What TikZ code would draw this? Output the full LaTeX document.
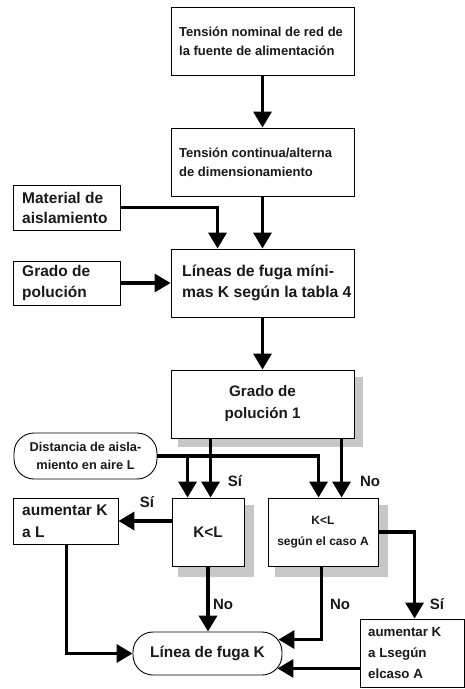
\documentclass[tikz,border=0pt]{standalone}
\usepackage{fontspec}
\setmainfont{Liberation Sans}
\usetikzlibrary{arrows.meta,calc}
\newcommand{\fs}[2]{\fontsize{#1}{#2}\selectfont}
\begin{document}
\begin{tikzpicture}[x=1pt,y=-1pt,
  box/.style={draw, line width=0.9pt, fill=white, inner sep=0pt},
  rbox/.style={box, rounded corners=20pt},
  shadowc/.style={fill=black!22, draw=none},
  conn/.style={line width=3.5pt, -{Triangle[width=18pt,length=16pt]}},
  txt/.style={inner sep=0pt, font=\bfseries, text=black!90, anchor=west, align=left},
  lbl/.style={inner sep=0pt, font=\bfseries\fs{15}{18}, text=black!90},
]
\useasboundingbox[fill=white] (0,0) rectangle (465,689);
% shadows
\fill[shadowc] (178,377) rectangle (363,447);
\fill[shadowc] (178,505) rectangle (254,577);
\fill[shadowc] (275,505) rectangle (388,577);
% boxes
\node[box, minimum width=183, minimum height=68] (b1) at (262.5,41) {};
\node[box, minimum width=183, minimum height=68] (b2) at (262.5,162) {};
\node[box, minimum width=183, minimum height=68] (b3) at (262.5,283) {};
\node[box, minimum width=183, minimum height=68, align=center, font=\bfseries\fs{15.2}{22}, text=black!90] (b4) at (262.5,404) {Grado de\\polución 1};
\node[box, minimum width=107, minimum height=45] (mat) at (66.5,207.5) {};
\node[box, minimum width=107, minimum height=44] (gp) at (66.5,283) {};
\node[rbox, minimum width=143, minimum height=46, align=center, font=\bfseries\fs{12.8}{18}, text=black!90] (dist) at (85.5,456) {Distancia de aisla-\\miento en aire L};
\node[box, minimum width=72, minimum height=68, font=\bfseries\fs{15.3}{18}, text=black!90] (kl) at (208,532) {K<L};
\node[box, minimum width=110, minimum height=68, align=center, font=\bfseries\fs{12}{21}, text=black!90] (kla) at (323,532) {K<L\\según el caso A};
\node[box, minimum width=105, minimum height=46] (aum) at (65.5,521) {};
\node[rbox, minimum width=149, minimum height=43, font=\bfseries\fs{15.4}{18}, text=black!90] (lin) at (207.5,653.5) {Línea de fuga K};
\node[box, minimum width=104, minimum height=68] (aumA) at (412,653) {};
% texts inside boxes
\node[txt, font=\bfseries\fs{13}{19}] (t1) at (179,41) {Tensión nominal de red de\\la fuente de alimentación};
\node[txt, font=\bfseries\fs{13}{19}] (t2) at (179,162) {Tensión continua/alterna\\de dimensionamiento};
\node[txt, font=\bfseries\fs{15.7}{21}] (t3) at (182,283) {Líneas de fuga míni-\\mas K según la tabla 4};
\node[txt, font=\bfseries\fs{15.5}{20}] (tmat) at (22,207.5) {Material de\\aislamiento};
\node[txt, font=\bfseries\fs{15.5}{21}] (tgp) at (22,283) {Grado de\\polución};
\node[txt, font=\bfseries\fs{15.5}{21.5}] (taum) at (22,521) {aumentar K\\a L};
\node[txt, font=\bfseries\fs{13.3}{21}] (taumA) at (368,653) {aumentar K\\a Lsegún\\elcaso A};
% helper coordinates
\path ($(b3.north west)+(47,0)$) coordinate (b3in);
\path ($(b4.south west)+(40,0)$) coordinate (b4o1);
\path ($(b4.south west)+(171,0)$) coordinate (b4o2);
\path ($(kl.north west)+(16,0)$) coordinate (klin1);
\path ($(kla.north west)+(51,0)$) coordinate (klain1);
\path (klin1 |- dist.east) coordinate (j1);
\path ($(aum.south west)+(54,0)$) coordinate (aumo);
\path ($(kla.south west)+(54,0)$) coordinate (klao);
\path ($(lin.north east)+(-4,8)$) coordinate (linr1);
\path ($(lin.south east)+(-5,-7)$) coordinate (linr2);
\path ($(aumA.north west)+(55,0)$) coordinate (aumAin);
% connectors
\draw[conn] (b1.south) -- (b2.north);
\draw[conn] (b2.south) -- (b3.north);
\draw[conn] (mat.east) -| (b3in);
\draw[conn] (gp.east) -- (b3.west);
\draw[conn] (b3.south) -- (b4.north);
\draw[conn] (b4o1) -- (b4o1 |- kl.north);
\draw[conn] (b4o2) -- (b4o2 |- kla.north);
\draw[conn] (dist.east) -| (klain1);
\draw[conn] (j1) -- (klin1);
\draw[conn] (aum.east -| kl.west) -- (aum.east);
\draw[conn] (aumo) |- (lin.west);
\draw[conn] (kl.south) -- (kl.south |- lin.north);
\draw[conn] (klao) |- (linr1);
\draw[conn] (kla.east) -| (aumAin);
\draw[conn] (aumA.west |- linr2) -- (linr2);
% labels
\node[lbl] (s1) at (235,481) {Sí};
\node[lbl] (n1) at (370,481) {No};
\node[lbl] (s2) at (147,502) {Sí};
\node[lbl] (n2) at (223,604) {No};
\node[lbl] (n3) at (340,604) {No};
\node[lbl] (s3) at (437,604) {Sí};
\end{tikzpicture}
\end{document}
